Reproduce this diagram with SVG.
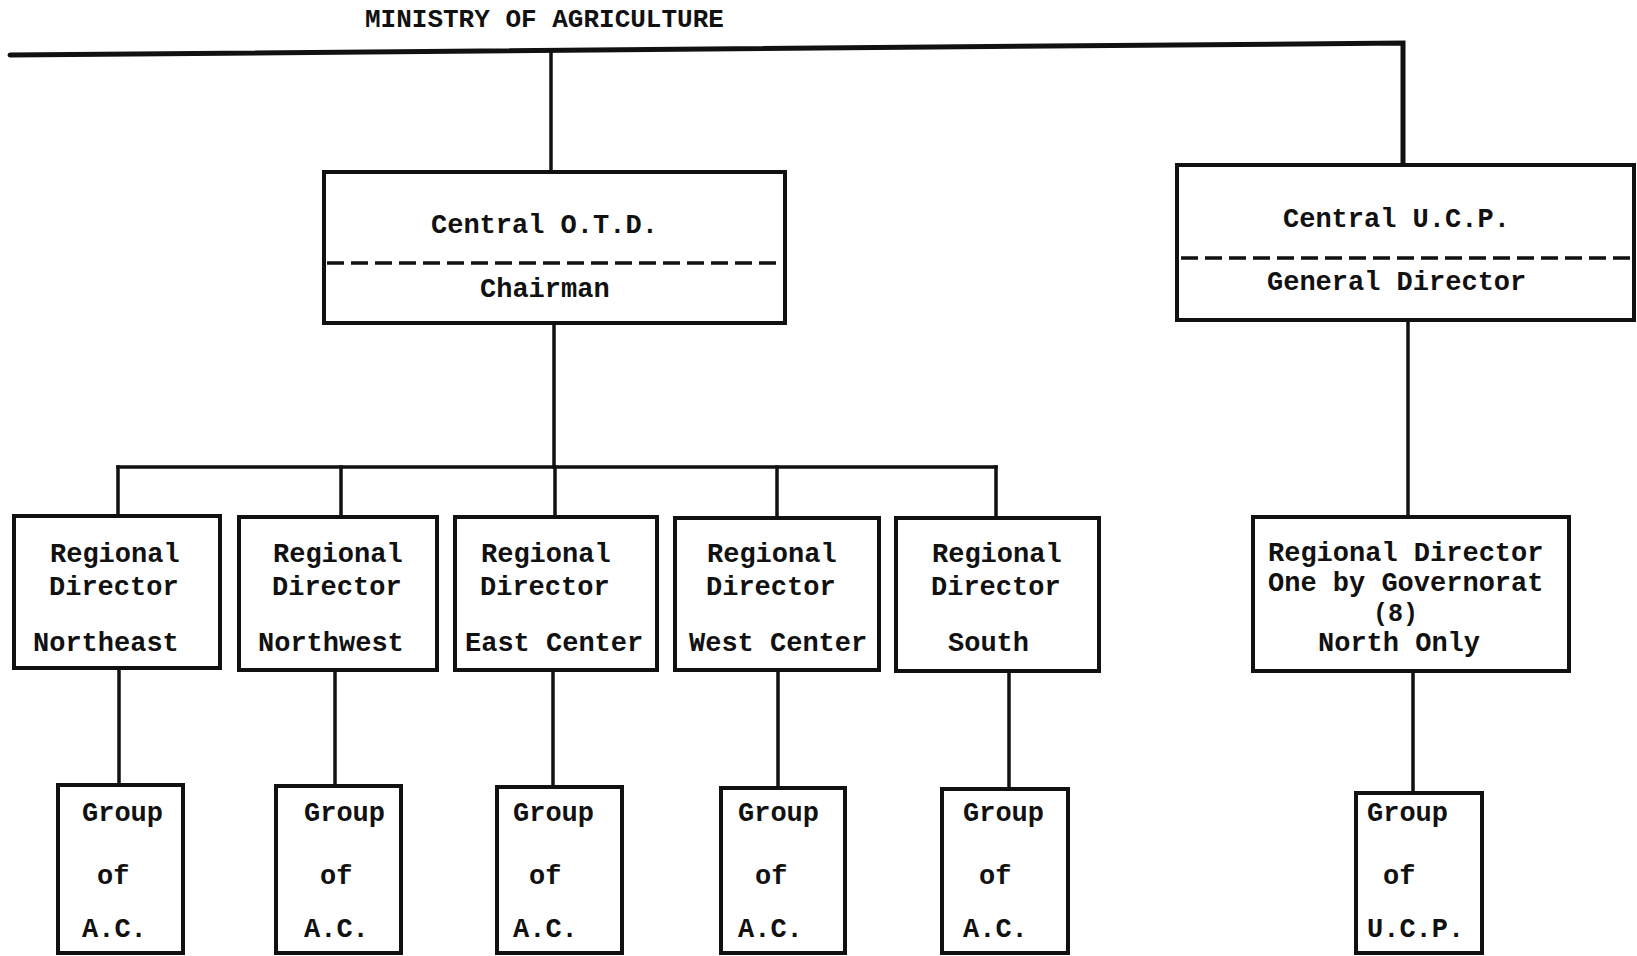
<svg xmlns="http://www.w3.org/2000/svg" width="1637" height="956" viewBox="0 0 1637 956">
<style>
.box{fill:#fff;stroke:#111;stroke-width:4}
.ln{fill:none;stroke:#111;stroke-width:3.5;stroke-linecap:square}
.top{fill:none;stroke:#111;stroke-width:5;stroke-linecap:round;stroke-linejoin:miter}
.dash{stroke:#111;stroke-width:3.5;stroke-dasharray:17 7}
text{font-family:"Liberation Mono","DejaVu Sans Mono",monospace;font-size:27px;fill:#111;font-weight:bold}
.title{font-size:26px}
.small{font-size:25px}
</style>
<rect width="1637" height="956" fill="#fff"/>
<g id="connectors">
<path class="top" d="M10 55 L1403 43 L1403 165"/>
<path class="ln" d="M551 50 V172"/>
<path class="ln" d="M554 323 V467"/>
<path class="ln" d="M118 467 H996"/>
<path class="ln" d="M118 467 V516 M341 467 V517 M555 467 V517 M777 467 V517 M996 467 V518"/>
<path class="ln" d="M1408 320 V517"/>
<path class="ln" d="M119 668 V785 M335 670 V786 M553 670 V787 M778 670 V788 M1009 671 V789 M1413 671 V793"/>
</g>
<g id="title"><text class="title" x="365" y="27">MINISTRY OF AGRICULTURE</text></g>
<g id="central-otd">
<rect class="box" x="324" y="172" width="461" height="151"/>
<line class="dash" x1="327" y1="263" x2="782" y2="263"/>
<text x="431" y="233">Central O.T.D.</text>
<text x="480" y="297">Chairman</text>
</g>
<g id="central-ucp">
<rect class="box" x="1177" y="165" width="457" height="155"/>
<line class="dash" x1="1181" y1="258" x2="1637" y2="258"/>
<text x="1283" y="227">Central U.C.P.</text>
<text x="1267" y="290">General Director</text>
</g>
<g id="rd-northeast">
<rect class="box" x="14" y="516" width="206" height="152"/>
<text x="50" y="562">Regional</text><text x="49" y="595">Director</text><text x="33" y="651">Northeast</text>
</g>
<g id="rd-northwest">
<rect class="box" x="239" y="517" width="198" height="153"/>
<text x="273" y="562">Regional</text><text x="272" y="595">Director</text><text x="258" y="651">Northwest</text>
</g>
<g id="rd-eastcenter">
<rect class="box" x="455" y="517" width="202" height="153"/>
<text x="481" y="562">Regional</text><text x="480" y="595">Director</text><text x="465" y="651">East Center</text>
</g>
<g id="rd-westcenter">
<rect class="box" x="675" y="518" width="204" height="152"/>
<text x="707" y="562">Regional</text><text x="706" y="595">Director</text><text x="689" y="651">West Center</text>
</g>
<g id="rd-south">
<rect class="box" x="896" y="518" width="203" height="153"/>
<text x="932" y="562">Regional</text><text x="931" y="595">Director</text><text x="948" y="651">South</text>
</g>
<g id="rd-ucp">
<rect class="box" x="1253" y="517" width="316" height="154"/>
<text x="1268" y="561">Regional Director</text>
<text x="1268" y="591">One by Governorat</text>
<text class="small" x="1373" y="621">(8)</text>
<text x="1318" y="651">North Only</text>
</g>
<g id="group-ne">
<rect class="box" x="58" y="785" width="125" height="168"/>
<text x="82" y="821">Group</text><text x="97" y="884">of</text><text x="82" y="937">A.C.</text>
</g>
<g id="group-nw">
<rect class="box" x="276" y="786" width="125" height="167"/>
<text x="304" y="821">Group</text><text x="320" y="884">of</text><text x="304" y="937">A.C.</text>
</g>
<g id="group-ec">
<rect class="box" x="497" y="787" width="125" height="166"/>
<text x="513" y="821">Group</text><text x="529" y="884">of</text><text x="513" y="937">A.C.</text>
</g>
<g id="group-wc">
<rect class="box" x="721" y="788" width="124" height="165"/>
<text x="738" y="821">Group</text><text x="755" y="884">of</text><text x="738" y="937">A.C.</text>
</g>
<g id="group-s">
<rect class="box" x="942" y="789" width="126" height="164"/>
<text x="963" y="821">Group</text><text x="979" y="884">of</text><text x="963" y="937">A.C.</text>
</g>
<g id="group-ucp">
<rect class="box" x="1356" y="793" width="126" height="160"/>
<text x="1367" y="821">Group</text><text x="1383" y="884">of</text><text x="1367" y="937">U.C.P.</text>
</g>
</svg>
